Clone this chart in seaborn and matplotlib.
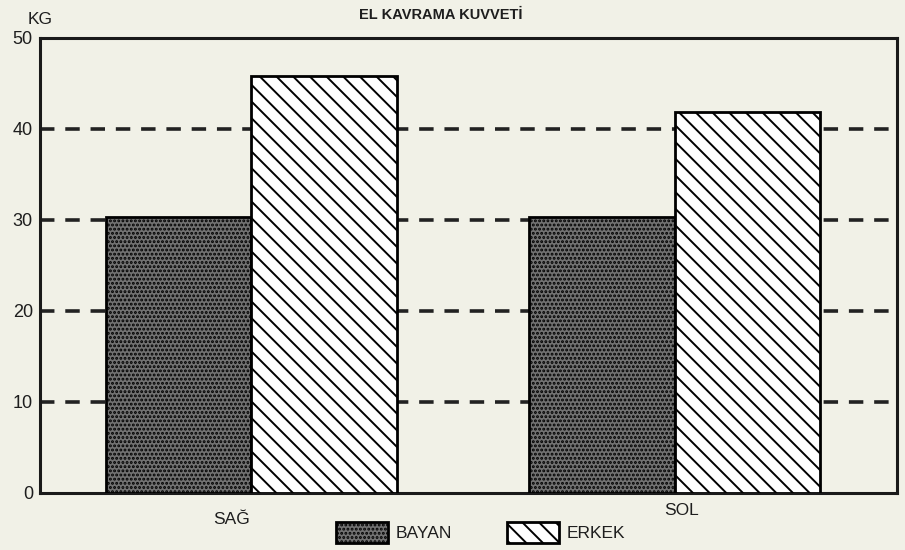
import pandas as pd
import matplotlib.pyplot as plt
import matplotlib.transforms as mtrans
import seaborn as sns
from matplotlib.patches import Patch

# values
sides = ["SAĞ", "SOL"]
bayan = [30.3, 30.3]
erkek = [45.8, 41.9]
groups = ["BAYAN", "ERKEK"]
yticks = [0, 10, 20, 30, 40, 50]

df = pd.DataFrame({
    "side": sides * 2,
    "group": [groups[0]] * 2 + [groups[1]] * 2,
    "kg": bayan + erkek,
})

paper = "#f1f1e7"
stipple = "#727272"
sns.set_style("white")
plt.rcParams["font.family"] = ["Liberation Sans", "DejaVu Sans"]
plt.rcParams["hatch.linewidth"] = 1.4
plt.rcParams["text.color"] = "#1e1e1e"
plt.rcParams["xtick.color"] = "#1e1e1e"
plt.rcParams["ytick.color"] = "#1e1e1e"

fig = plt.figure(figsize=(9.05, 5.5), dpi=100, facecolor=paper)
ax = fig.add_axes([0.044, 0.104, 0.947, 0.827])
ax.set_facecolor(paper)

sns.barplot(data=df, x="side", y="kg", hue="group",
            palette={"BAYAN": stipple, "ERKEK": "white"},
            width=0.686, edgecolor="black", linewidth=2,
            legend=False, ax=ax, zorder=3)

hatches = ["....", "\\\\"]
for cont, h in zip(ax.containers, hatches):
    for bar in cont:
        bar.set_hatch(h)

# dashed reference lines
for y in yticks[1:-1]:
    ax.axhline(y, color="#222222", lw=2.6, ls=(0, (4, 3)), zorder=1)

ax.set_ylim(0, 50)
ax.set_xlim(-0.5, 1.525)
ax.set_yticks(yticks)
ax.tick_params(axis="y", length=0, labelsize=13, pad=5)
ax.tick_params(axis="x", length=0, labelsize=12.5, pad=12)
ax.set_xlabel("")
ax.set_ylabel("")
for s in ax.spines.values():
    s.set_visible(True)
    s.set_color("#1a1a1a")
    s.set_linewidth(2.2)

# the scanned labels sit a little off the group centres
shifts = [(-20, -3), (7, 6)]
for lab, (dx, dy) in zip(ax.get_xticklabels(), shifts):
    lab.set_transform(lab.get_transform() + mtrans.ScaledTranslation(dx / 100, dy / 100, fig.dpi_scale_trans))

fig.text(0.031, 0.965, "KG", fontsize=12.5, ha="left", va="center")
fig.text(0.487, 0.972, "EL KAVRAMA KUVVETİ", fontsize=10.5,
         fontweight="bold", ha="center", va="center")

handles = [Patch(facecolor=stipple, edgecolor="black", hatch="....", lw=2),
           Patch(facecolor="white", edgecolor="black", hatch="\\\\", lw=2)]
fig.legend(handles, groups, loc="center", bbox_to_anchor=(0.531, 0.032),
           ncol=2, frameon=False, fontsize=12.5, handlelength=3.0,
           handleheight=1.5, columnspacing=3.2, handletextpad=0.4)

fig.savefig("out.png", dpi=100, facecolor=paper)
